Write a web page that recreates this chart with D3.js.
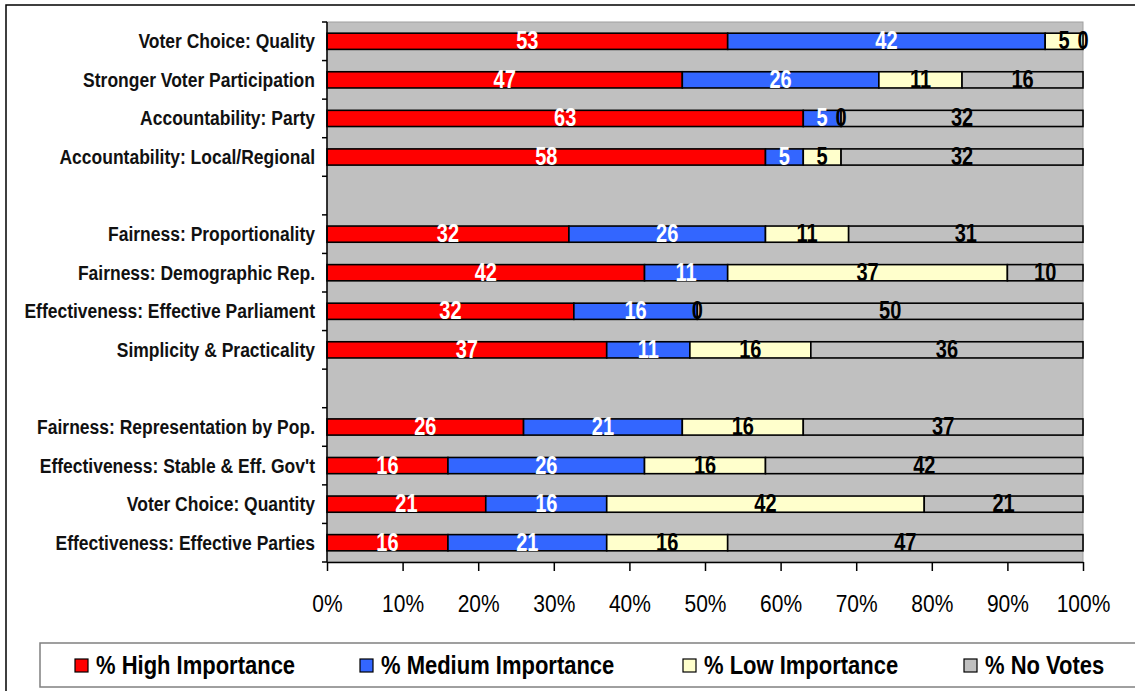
<!DOCTYPE html>
<html>
<head>
<meta charset="utf-8">
<script src="https://cdn.jsdelivr.net/npm/d3@7"></script>
<style>
  body { margin: 0; background: #fff; }
  svg { display: block; font-family: "Liberation Sans", Arial, sans-serif; }
</style>
</head>
<body>
<svg id="chart" width="1135" height="691"></svg>
<script>
// Category rows, top to bottom ("" marks an empty spacer row)
const categories = [
  "Voter Choice: Quality",
  "Stronger Voter Participation",
  "Accountability: Party",
  "Accountability: Local/Regional",
  "",
  "Fairness: Proportionality",
  "Fairness: Demographic Rep.",
  "Effectiveness: Effective Parliament",
  "Simplicity & Practicality",
  "",
  "Fairness: Representation by Pop.",
  "Effectiveness: Stable & Eff. Gov't",
  "Voter Choice: Quantity",
  "Effectiveness: Effective Parties"
];

// Series values per row (null for spacer rows)
const highImportance   = [53, 47, 63, 58, null, 32, 42, 32, 37, null, 26, 16, 21, 16];
const mediumImportance = [42, 26,  5,  5, null, 26, 11, 16, 11, null, 21, 26, 16, 21];
const lowImportance    = [ 5, 11,  0,  5, null, 11, 37,  0, 16, null, 16, 16, 42, 16];
const noVotes          = [ 0, 16, 32, 32, null, 31, 10, 50, 36, null, 37, 42, 21, 47];

const seriesNames = ["% High Importance", "% Medium Importance", "% Low Importance", "% No Votes"];
const seriesColors = ["#FF0000", "#3366FF", "#FFFFCC", "#C0C0C0"];
const labelColors = ["#FFFFFF", "#FFFFFF", "#000000", "#000000"];
const xTicks = [0, 0.1, 0.2, 0.3, 0.4, 0.5, 0.6, 0.7, 0.8, 0.9, 1];

const svg = d3.select("#chart");
const plot = { left: 327, right: 1083, top: 22, bottom: 562 };

// Outer chart border
svg.append("rect")
  .attr("x", 6).attr("y", 5).attr("width", 1160).attr("height", 720)
  .attr("fill", "#fff").attr("stroke", "#000").attr("stroke-width", 1.5);

const x = d3.scaleLinear().domain([0, 1]).range([plot.left, plot.right]);
const y = d3.scaleBand().domain(d3.range(categories.length)).range([plot.top, plot.bottom]);
const barH = y.bandwidth() * 0.42;

// Plot background
svg.append("rect")
  .attr("x", plot.left).attr("y", plot.top)
  .attr("width", plot.right - plot.left).attr("height", plot.bottom - plot.top)
  .attr("fill", "#C0C0C0").attr("stroke", "#A0A0A0").attr("stroke-width", 1);

// Build percent-stacked rows
const seriesArrays = [highImportance, mediumImportance, lowImportance, noVotes];
const rows = categories.map((c, i) => {
  if (highImportance[i] === null) return null;
  const vals = seriesArrays.map(a => a[i]);
  const total = d3.sum(vals);
  let acc = 0;
  return vals.map((v, k) => {
    const s = { row: i, k, value: v, x0: acc / total, x1: (acc + v) / total };
    acc += v;
    return s;
  });
}).filter(r => r);

const segs = rows.flat();

const g = svg.append("g");
g.selectAll("rect.seg")
  .data(segs)
  .join("rect")
  .attr("class", "seg")
  .attr("x", d => x(d.x0))
  .attr("y", d => y(d.row) + (y.bandwidth() - barH) / 2)
  .attr("width", d => x(d.x1) - x(d.x0))
  .attr("height", barH)
  .attr("fill", d => seriesColors[d.k])
  .attr("stroke", "#000")
  .attr("stroke-width", 1.6);

// Value labels centred in their segments (tall, narrow-looking digits)
g.selectAll("text.val")
  .data(segs)
  .join("text")
  .attr("class", "val")
  .attr("transform", d => `translate(${(x(d.x0) + x(d.x1)) / 2},${y(d.row) + y.bandwidth() / 2 + 8}) scale(1,1.25)`)
  .attr("text-anchor", "middle")
  .attr("font-size", 20)
  .attr("font-weight", "bold")
  .attr("fill", d => labelColors[d.k])
  .text(d => d.value);

// Left axis: line, tick marks at row boundaries, category labels
svg.append("line")
  .attr("x1", plot.left).attr("x2", plot.left)
  .attr("y1", plot.top).attr("y2", plot.bottom)
  .attr("stroke", "#000").attr("stroke-width", 1.5);

svg.selectAll("line.ytick")
  .data(d3.range(categories.length + 1))
  .join("line")
  .attr("class", "ytick")
  .attr("x1", plot.left - 5).attr("x2", plot.left)
  .attr("y1", i => i < categories.length ? y(i) : plot.bottom)
  .attr("y2", i => i < categories.length ? y(i) : plot.bottom)
  .attr("stroke", "#000").attr("stroke-width", 1.5);

svg.selectAll("text.cat")
  .data(categories.map((c, i) => ({ c, i })).filter(d => d.c))
  .join("text")
  .attr("class", "cat")
  .attr("transform", d => `translate(315,${y(d.i) + y.bandwidth() / 2 + 7}) scale(1,1.15)`)
  .attr("text-anchor", "end")
  .attr("font-size", 17.5)
  .attr("font-weight", "bold")
  .attr("fill", "#111")
  .text(d => d.c);

// Bottom axis
const xAxis = d3.axisBottom(x)
  .tickValues(xTicks)
  .tickFormat(d3.format(".0%"))
  .tickSize(9)
  .tickSizeOuter(0);

const xa = svg.append("g")
  .attr("transform", `translate(0,${plot.bottom})`)
  .call(xAxis);
xa.select(".domain").attr("stroke", "#000").attr("stroke-width", 1.5);
xa.selectAll(".tick line").attr("stroke", "#000").attr("stroke-width", 1.5);
xa.selectAll(".tick text")
  .attr("font-family", "Liberation Sans, Arial, sans-serif")
  .attr("font-size", 21)
  .attr("fill", "#000")
  .attr("dy", null)
  .attr("y", 0)
  .attr("transform", "translate(0,50) scale(1,1.1)");

// Legend
svg.append("rect")
  .attr("x", 40).attr("y", 643).attr("width", 1120).attr("height", 44)
  .attr("fill", "#fff").attr("stroke", "#808080").attr("stroke-width", 1.5);

const legendX = [75, 360, 683, 964];
const leg = svg.selectAll("g.leg")
  .data(seriesNames)
  .join("g")
  .attr("class", "leg")
  .attr("transform", (d, i) => `translate(${legendX[i]},659)`);
leg.append("rect")
  .attr("width", 13).attr("height", 13)
  .attr("fill", (d, i) => seriesColors[i])
  .attr("stroke", "#000").attr("stroke-width", 1.2);
leg.append("text")
  .attr("transform", "translate(21,15) scale(1,1.2)")
  .attr("font-size", 22)
  .attr("font-weight", "bold")
  .attr("fill", "#000")
  .text(d => d);
</script>
</body>
</html>
